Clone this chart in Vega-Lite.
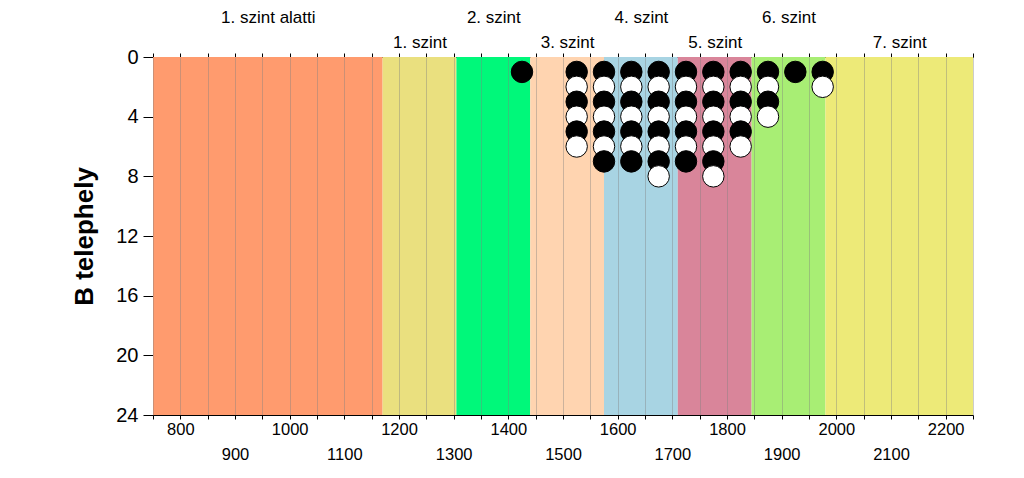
{
  "$schema": "https://vega.github.io/schema/vega-lite/v6.json",
  "width": 820,
  "height": 358,
  "autosize": {"type": "none"},
  "padding": {"left": 153, "top": 57, "right": 51, "bottom": 63},
  "background": "white",
  "config": {
    "font": "Liberation Sans",
    "view": {"stroke": null},
    "axis": {"labelFont": "Liberation Sans", "titleFont": "Liberation Sans", "labelColor": "black", "titleColor": "black", "domainColor": "black", "tickColor": "black"}
  },
  "datasets": {
    "szintek": [
      {"szint": "1. szint alatti", "kezdet": 750, "veg": 1170},
      {"szint": "1. szint", "kezdet": 1170, "veg": 1305},
      {"szint": "2. szint", "kezdet": 1305, "veg": 1440},
      {"szint": "3. szint", "kezdet": 1440, "veg": 1575},
      {"szint": "4. szint", "kezdet": 1575, "veg": 1710},
      {"szint": "5. szint", "kezdet": 1710, "veg": 1845},
      {"szint": "6. szint", "kezdet": 1845, "veg": 1980},
      {"szint": "7. szint", "kezdet": 1980, "veg": 2250}
    ],
    "pontok": [
      {"ertek": 1425, "db": 1, "szin": "fekete"},
      {"ertek": 1525, "db": 1, "szin": "fekete"},
      {"ertek": 1525, "db": 2, "szin": "fehér"},
      {"ertek": 1525, "db": 3, "szin": "fekete"},
      {"ertek": 1525, "db": 4, "szin": "fehér"},
      {"ertek": 1525, "db": 5, "szin": "fekete"},
      {"ertek": 1525, "db": 6, "szin": "fehér"},
      {"ertek": 1575, "db": 1, "szin": "fekete"},
      {"ertek": 1575, "db": 2, "szin": "fehér"},
      {"ertek": 1575, "db": 3, "szin": "fekete"},
      {"ertek": 1575, "db": 4, "szin": "fehér"},
      {"ertek": 1575, "db": 5, "szin": "fekete"},
      {"ertek": 1575, "db": 6, "szin": "fehér"},
      {"ertek": 1575, "db": 7, "szin": "fekete"},
      {"ertek": 1625, "db": 1, "szin": "fekete"},
      {"ertek": 1625, "db": 2, "szin": "fehér"},
      {"ertek": 1625, "db": 3, "szin": "fekete"},
      {"ertek": 1625, "db": 4, "szin": "fehér"},
      {"ertek": 1625, "db": 5, "szin": "fekete"},
      {"ertek": 1625, "db": 6, "szin": "fehér"},
      {"ertek": 1625, "db": 7, "szin": "fekete"},
      {"ertek": 1675, "db": 1, "szin": "fekete"},
      {"ertek": 1675, "db": 2, "szin": "fehér"},
      {"ertek": 1675, "db": 3, "szin": "fekete"},
      {"ertek": 1675, "db": 4, "szin": "fehér"},
      {"ertek": 1675, "db": 5, "szin": "fekete"},
      {"ertek": 1675, "db": 6, "szin": "fehér"},
      {"ertek": 1675, "db": 7, "szin": "fekete"},
      {"ertek": 1675, "db": 8, "szin": "fehér"},
      {"ertek": 1725, "db": 1, "szin": "fekete"},
      {"ertek": 1725, "db": 2, "szin": "fehér"},
      {"ertek": 1725, "db": 3, "szin": "fekete"},
      {"ertek": 1725, "db": 4, "szin": "fehér"},
      {"ertek": 1725, "db": 5, "szin": "fekete"},
      {"ertek": 1725, "db": 6, "szin": "fehér"},
      {"ertek": 1725, "db": 7, "szin": "fekete"},
      {"ertek": 1775, "db": 1, "szin": "fekete"},
      {"ertek": 1775, "db": 2, "szin": "fehér"},
      {"ertek": 1775, "db": 3, "szin": "fekete"},
      {"ertek": 1775, "db": 4, "szin": "fehér"},
      {"ertek": 1775, "db": 5, "szin": "fekete"},
      {"ertek": 1775, "db": 6, "szin": "fehér"},
      {"ertek": 1775, "db": 7, "szin": "fekete"},
      {"ertek": 1775, "db": 8, "szin": "fehér"},
      {"ertek": 1825, "db": 1, "szin": "fekete"},
      {"ertek": 1825, "db": 2, "szin": "fehér"},
      {"ertek": 1825, "db": 3, "szin": "fekete"},
      {"ertek": 1825, "db": 4, "szin": "fehér"},
      {"ertek": 1825, "db": 5, "szin": "fekete"},
      {"ertek": 1825, "db": 6, "szin": "fehér"},
      {"ertek": 1875, "db": 1, "szin": "fekete"},
      {"ertek": 1875, "db": 2, "szin": "fehér"},
      {"ertek": 1875, "db": 3, "szin": "fekete"},
      {"ertek": 1875, "db": 4, "szin": "fehér"},
      {"ertek": 1925, "db": 1, "szin": "fekete"},
      {"ertek": 1975, "db": 1, "szin": "fekete"},
      {"ertek": 1975, "db": 2, "szin": "fehér"}
    ]
  },
  "resolve": {"axis": {"x": "independent"}},
  "layer": [
    {
      "data": {"name": "szintek"},
      "mark": {"type": "rect"},
      "encoding": {
        "x": {
          "field": "kezdet", "type": "quantitative",
          "scale": {"domain": [750, 2250], "nice": false, "zero": false},
          "axis": {
            "orient": "bottom", "title": null, "zindex": 1,
            "values": [750, 800, 850, 900, 950, 1000, 1050, 1100, 1150, 1200, 1250, 1300, 1350, 1400, 1450, 1500, 1550, 1600, 1650, 1700, 1750, 1800, 1850, 1900, 1950, 2000, 2050, 2100, 2150, 2200, 2250],
            "labelExpr": "datum.value % 100 === 0 && datum.value >= 800 && datum.value <= 2200 ? format(datum.value, 'd') : ''",
            "labelPadding": {"condition": {"test": "datum.value % 200 === 0", "value": 2}, "value": 27},
            "labelFontSize": 16.5, "labelOverlap": false, "labelFlush": false,
            "tickSize": 4, "grid": true, "gridColor": "#808080", "gridOpacity": 0.4, "gridWidth": 1
          }
        },
        "x2": {"field": "veg"},
        "color": {
          "field": "szint", "type": "nominal", "legend": null,
          "scale": {
            "domain": ["1. szint alatti", "1. szint", "2. szint", "3. szint", "4. szint", "5. szint", "6. szint", "7. szint"],
            "range": ["#FF9B6E", "#EAE07F", "#00F87A", "#FFD4B0", "#A8D4E3", "#D9859A", "#A8EE74", "#EDEA78"]
          }
        }
      }
    },
    {
      "data": {"name": "pontok"},
      "mark": {"type": "point", "shape": "circle", "filled": true, "size": 460, "stroke": "black", "strokeWidth": 1, "opacity": 1},
      "encoding": {
        "x": {
          "field": "ertek", "type": "quantitative",
          "axis": {
            "orient": "top", "title": null, "labels": false, "grid": false, "tickSize": 4,
            "values": [750, 800, 850, 900, 950, 1000, 1050, 1100, 1150, 1200, 1250, 1300, 1350, 1400, 1450, 1500, 1550, 1600, 1650, 1700, 1750, 1800, 1850, 1900, 1950, 2000, 2050, 2100, 2150, 2200, 2250]
          }
        },
        "y": {
          "field": "db", "type": "quantitative",
          "scale": {"domain": [0, 24], "reverse": true, "nice": false},
          "axis": {
            "title": "B telephely", "titleFontSize": 26, "titleFontWeight": "bold", "titlePadding": 18,
            "values": [0, 4, 8, 12, 16, 20, 24], "labelFontSize": 20, "tickSize": 10, "labelPadding": 5,
            "grid": false, "labelFlush": false
          }
        },
        "fill": {
          "field": "szin", "type": "nominal", "legend": null,
          "scale": {"domain": ["fekete", "fehér"], "range": ["#000000", "#FFFFFF"]}
        }
      }
    },
    {
      "data": {"name": "szintek"},
      "mark": {"type": "rect", "opacity": 0},
      "encoding": {
        "x": {
          "field": "kezdet", "type": "quantitative",
          "axis": {
            "orient": "top", "title": null, "ticks": false, "domain": false, "grid": false,
            "values": [960, 1237.5, 1372.5, 1507.5, 1642.5, 1777.5, 1912.5, 2115],
            "labelExpr": "datum.value == 960 ? '1. szint alatti' : datum.value == 1237.5 ? '1. szint' : datum.value == 1372.5 ? '2. szint' : datum.value == 1507.5 ? '3. szint' : datum.value == 1642.5 ? '4. szint' : datum.value == 1777.5 ? '5. szint' : datum.value == 1912.5 ? '6. szint' : '7. szint'",
            "labelPadding": {"condition": {"test": "datum.value == 960 || datum.value == 1372.5 || datum.value == 1642.5 || datum.value == 1912.5", "value": 31}, "value": 6},
            "labelFontSize": 17, "labelOverlap": false, "labelFlush": false
          }
        },
        "x2": {"field": "veg"}
      }
    }
  ]
}
